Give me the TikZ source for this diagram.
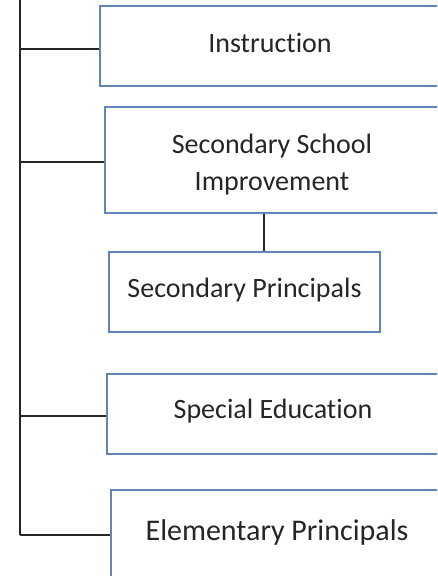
\documentclass[tikz,border=0pt]{standalone}
\usepackage{fontspec}
\setmainfont{Carlito}[Ligatures=NoCommon]
\definecolor{boxblue}{RGB}{98,133,185}
\definecolor{inkgray}{RGB}{38,38,38}
\begin{document}
\begin{tikzpicture}[x=1pt, y=-1pt, line width=1.6pt,
	unit/.style = {draw=boxblue, fill=white, text=inkgray, inner sep=0pt, align=center, font=\fontsize{28}{37}\selectfont},
	link/.style = {draw=inkgray}]
	\useasboundingbox (0,0) rectangle (437,576);
	\clip (0,0) rectangle (437,576);
	
	\node[unit, minimum width=340pt, minimum height=80pt, text depth=6pt] (instr) at (270,46) {Instruction};
	\node[unit, minimum width=334pt, minimum height=106pt, text height=67pt, text depth=6pt] (ssi) at (272,160) {Secondary School\\Improvement};
	\node[unit, minimum width=271pt, minimum height=80pt, text depth=7.5pt] (sprin) at (244.5,292) {Secondary Principals};
	\node[unit, minimum width=332pt, minimum height=80pt, text depth=10pt] (sped) at (273,414) {Special Education};
	\node[unit, minimum width=332pt, minimum height=90pt, text depth=10pt, font=\fontsize{30}{36}\selectfont] (elem) at (277,535) {Elementary Principals};
	
	\coordinate (top) at (20,-5);
	\coordinate (bot) at (20,535);
	
	\draw[link] (top) -- (bot);
	\draw[link] ([yshift=-3pt]instr.west) -- ([yshift=-3pt]instr.west -| top);
	\draw[link] ([yshift=-2pt]ssi.west) -- ([yshift=-2pt]ssi.west -| top);
	\draw[link] ([yshift=-2pt]sped.west) -- ([yshift=-2pt]sped.west -| top);
	\draw[link] (elem.west) -- (bot);
	\draw[link] ([xshift=-8pt]ssi.south) -- ([xshift=-8pt]ssi.south |- sprin.north);
	
\end{tikzpicture}
\end{document}
